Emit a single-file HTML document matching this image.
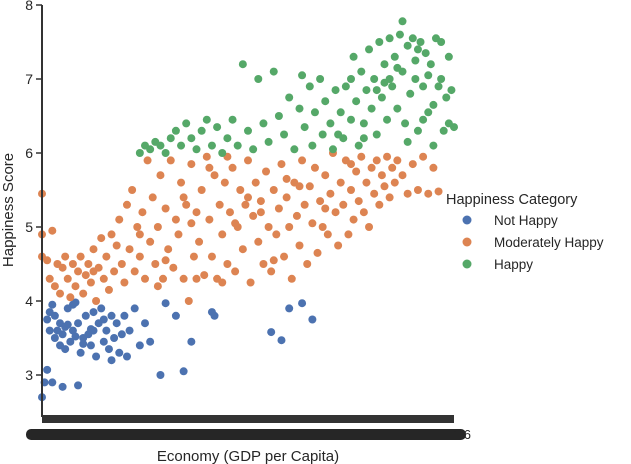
<!DOCTYPE html>
<html><head><meta charset="utf-8"><style>
body{margin:0;background:#fff;}
svg{display:block;font-family:"Liberation Sans",sans-serif;}
</style></head><body>
<svg id="chart" width="631" height="464">
<g id="marks"></g>
<g id="axes"></g>
<g id="legend"></g>
</svg>
<script>
const yTicks=[3,4,5,6,7,8];
const seriesNames=["Not Happy","Moderately Happy","Happy"];
const notHappy=[[0.0,2.7],[0.01,2.9],[0.02,3.07],[0.04,2.9],[0.08,2.84],[0.14,2.86],[0.02,3.75],[0.03,3.85],[0.04,3.95],[0.05,3.5],[0.06,3.6],[0.07,3.7],[0.08,3.55],[0.09,3.65],[0.1,3.9],[0.11,3.45],[0.12,3.95],[0.13,3.98],[0.12,3.6],[0.14,3.7],[0.15,3.3],[0.16,3.5],[0.17,3.8],[0.18,3.55],[0.19,3.4],[0.2,3.6],[0.21,3.25],[0.22,3.7],[0.23,3.9],[0.24,3.45],[0.25,3.6],[0.26,3.35],[0.27,3.8],[0.28,3.5],[0.29,3.7],[0.3,3.3],[0.31,3.55],[0.32,3.8],[0.33,3.25],[0.34,3.6],[0.36,3.9],[0.38,3.4],[0.4,3.7],[0.42,3.45],[0.46,3.0],[0.48,3.97],[0.52,3.8],[0.55,3.05],[0.58,3.45],[0.66,3.85],[0.67,3.8],[0.89,3.58],[0.93,3.47],[0.96,3.9],[1.01,3.97],[1.05,3.75],[0.16,3.42],[0.19,3.62],[0.24,3.75],[0.07,3.4],[0.1,3.68],[0.13,3.52],[0.27,3.2],[0.05,3.8],[0.09,3.35],[0.2,3.85],[0.03,3.6]];
const moderate=[[0.0,5.45],[0.0,4.9],[0.0,4.6],[0.02,4.55],[0.03,4.3],[0.04,4.95],[0.05,4.2],[0.06,4.5],[0.07,4.1],[0.08,4.45],[0.09,4.6],[0.1,4.3],[0.11,4.05],[0.12,4.5],[0.13,4.2],[0.14,4.4],[0.15,4.6],[0.16,4.1],[0.17,4.35],[0.18,4.5],[0.19,4.25],[0.2,4.7],[0.21,4.0],[0.22,4.45],[0.23,4.85],[0.24,4.3],[0.25,4.6],[0.26,4.15],[0.27,4.9],[0.28,4.4],[0.29,4.75],[0.3,5.1],[0.31,4.5],[0.32,4.25],[0.33,5.3],[0.34,4.7],[0.35,5.5],[0.36,4.4],[0.37,5.0],[0.38,4.6],[0.39,5.2],[0.4,4.3],[0.41,5.9],[0.42,4.8],[0.43,5.4],[0.44,4.5],[0.45,5.0],[0.46,5.7],[0.47,4.3],[0.48,5.25],[0.49,4.7],[0.5,5.9],[0.51,4.45],[0.52,5.1],[0.53,4.9],[0.54,5.6],[0.55,4.3],[0.56,5.3],[0.57,4.0],[0.58,5.85],[0.59,4.6],[0.6,5.2],[0.61,4.8],[0.62,5.5],[0.63,4.35],[0.64,5.95],[0.65,5.1],[0.66,4.6],[0.67,5.7],[0.68,4.3],[0.69,5.3],[0.7,4.9],[0.71,5.6],[0.72,4.5],[0.73,5.2],[0.74,5.8],[0.75,4.4],[0.76,5.0],[0.77,5.5],[0.78,4.7],[0.79,5.3],[0.8,5.9],[0.81,4.25],[0.82,5.15],[0.83,5.6],[0.84,4.8],[0.85,5.35],[0.86,4.5],[0.87,5.75],[0.88,5.0],[0.89,4.4],[0.9,5.5],[0.91,4.9],[0.92,5.25],[0.93,5.85],[0.94,4.6],[0.95,5.4],[0.96,5.0],[0.97,4.3],[0.98,5.6],[0.99,5.15],[1.0,4.75],[1.01,5.9],[1.02,5.3],[1.03,4.5],[1.04,5.55],[1.05,5.05],[1.06,5.8],[1.07,4.65],[1.08,5.35],[1.09,5.0],[1.1,5.7],[1.11,4.9],[1.12,5.45],[1.13,6.0],[1.14,5.2],[1.15,4.75],[1.16,5.6],[1.17,5.3],[1.18,5.9],[1.19,4.9],[1.2,5.5],[1.21,5.1],[1.22,5.75],[1.23,5.35],[1.24,5.95],[1.25,5.2],[1.26,5.6],[1.27,5.0],[1.28,5.8],[1.29,5.45],[1.3,5.9],[1.31,5.3],[1.32,5.7],[1.33,5.55],[1.34,5.95],[1.35,5.4],[1.36,5.8],[1.37,5.6],[1.38,5.9],[1.4,5.7],[1.42,5.45],[1.44,5.85],[1.46,5.5],[1.48,5.95],[1.5,5.45],[1.52,5.8],[1.54,5.48],[0.2,4.4],[0.45,4.2],[0.6,4.3],[0.7,4.25],[0.75,5.05],[0.8,5.4],[0.85,5.2],[0.9,4.55],[0.55,5.4],[0.38,4.9],[0.65,5.8],[1.0,5.55],[1.1,5.25],[1.2,5.85],[0.95,5.65],[0.72,5.95],[0.58,5.05],[0.48,4.55]];
const happy=[[0.38,6.0],[0.4,6.1],[0.42,6.05],[0.44,6.15],[0.46,6.1],[0.48,6.0],[0.5,6.2],[0.52,6.3],[0.54,6.1],[0.56,6.4],[0.58,6.2],[0.6,6.05],[0.62,6.3],[0.64,6.45],[0.66,6.1],[0.68,6.35],[0.7,6.0],[0.72,6.2],[0.74,6.45],[0.76,6.1],[0.78,7.2],[0.8,6.3],[0.82,6.05],[0.84,7.0],[0.86,6.4],[0.88,6.15],[0.9,7.1],[0.92,6.5],[0.94,6.25],[0.96,6.75],[0.98,6.05],[1.0,6.6],[1.01,7.05],[1.02,6.35],[1.04,6.9],[1.05,6.1],[1.06,6.55],[1.08,7.0],[1.09,6.25],[1.1,6.7],[1.12,6.4],[1.13,6.05],[1.14,6.85],[1.16,6.55],[1.17,6.2],[1.18,6.9],[1.2,6.45],[1.21,7.3],[1.22,6.7],[1.23,6.1],[1.24,7.1],[1.25,6.4],[1.26,6.85],[1.27,7.4],[1.28,6.6],[1.29,7.0],[1.3,6.25],[1.31,7.5],[1.32,6.75],[1.33,7.2],[1.34,6.45],[1.35,7.55],[1.36,6.9],[1.37,7.3],[1.38,6.6],[1.39,7.6],[1.4,7.1],[1.41,6.4],[1.42,7.45],[1.43,6.8],[1.44,7.55],[1.45,7.0],[1.46,6.3],[1.47,7.5],[1.48,6.9],[1.49,7.35],[1.5,6.55],[1.51,7.2],[1.52,6.1],[1.53,7.55],[1.54,6.9],[1.55,7.0],[1.56,6.3],[1.57,6.75],[1.58,6.4],[1.59,6.85],[1.6,6.35],[1.4,7.78],[1.45,7.25],[1.5,7.05],[1.35,7.0],[1.3,6.85],[1.25,6.2],[1.55,7.5],[1.42,6.15],[1.38,7.15],[1.48,6.45],[1.52,6.65],[1.2,7.0],[1.15,6.25],[1.33,6.95],[1.46,7.4],[1.58,7.3]];
const seriesData=[notHappy,moderate,happy];
const colors=["#4c72b0","#dd8452","#55a868"];
const NS="http://www.w3.org/2000/svg";
const X0=42,X1=454,Y0=416,Ytop=5;
const xDom=[0,1.6];
function xs(v){return X0+(v-xDom[0])/(xDom[1]-xDom[0])*(X1-X0);}
function ys(v){return 5+(8-v)*74;}
function mk(t,a,p){const e=document.createElementNS(NS,t);for(const k in a)e.setAttribute(k,a[k]);p.appendChild(e);return e;}
const marks=document.getElementById('marks');
seriesData.forEach((arr,si)=>{arr.forEach(d=>{const c=mk('circle',{cx:xs(d[0]),cy:ys(d[1]),r:4,fill:colors[si]},marks);

});});
const ax=document.getElementById('axes');
let e=mk('line',{x1:X0,y1:Ytop,x2:X0,y2:Y0+1,stroke:'#333',"stroke-width":2},ax);

e=mk('line',{x1:X0-1,y1:Y0,x2:X1,y2:Y0,stroke:'#333',"stroke-width":2},ax);

e=mk('rect',{x:X0,y:Y0,width:X1-X0,height:7,fill:'#333'},ax);

e=mk('rect',{x:26,y:429,width:440,height:11,rx:5,fill:'#262626'},ax);

e=mk('text',{x:471,y:439,"font-size":13,fill:'#262626',"text-anchor":'end'},ax);e.textContent='1.6';

yTicks.forEach(v=>{const t=mk('line',{x1:X0-6,y1:ys(v),x2:X0,y2:ys(v),stroke:'#333',"stroke-width":1.5},ax);

const l=mk('text',{x:X0-9,y:ys(v)+5,"font-size":14,fill:'#262626',"text-anchor":'end'},ax);l.textContent=v;
});
e=mk('text',{x:248,y:461,"font-size":15,fill:'#262626',"text-anchor":'middle'},ax);e.textContent='Economy (GDP per Capita)';

e=mk('text',{x:13,y:210,"font-size":15,fill:'#262626',"text-anchor":'middle',transform:'rotate(-90 13 210)'},ax);e.textContent='Happiness Score';

const lg=document.getElementById('legend');
e=mk('text',{x:446,y:204,"font-size":14.5,fill:'#262626'},lg);e.textContent='Happiness Category';

seriesNames.forEach((n,i)=>{const y=220+i*22;
const c=mk('circle',{cx:467,cy:y,r:4.5,fill:colors[i]},lg);

const t=mk('text',{x:494,y:y+5,"font-size":13.5,fill:'#262626'},lg);t.textContent=n;
});
</script>
</body></html>
